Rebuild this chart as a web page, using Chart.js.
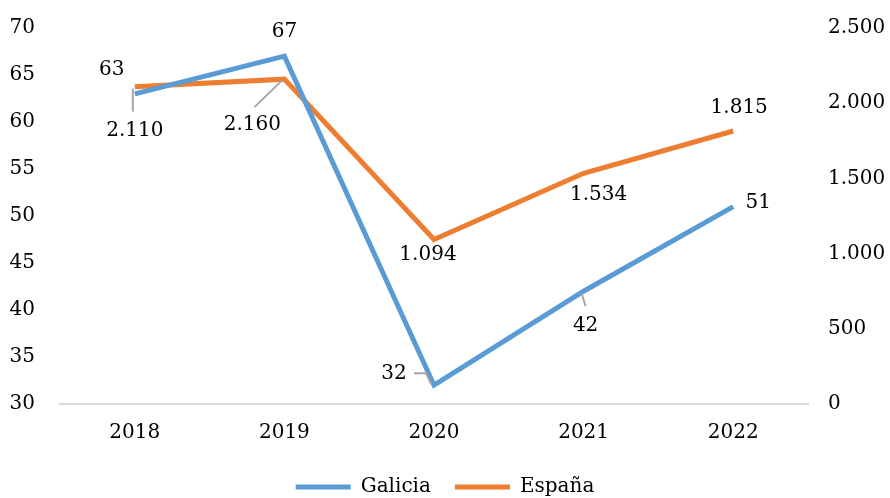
<!DOCTYPE html>
<html>
<head>
<meta charset="utf-8">
<script src="https://cdn.jsdelivr.net/npm/chart.js@4"></script>
<style>
  html, body { margin: 0; padding: 0; background: #fff; }
  #wrap { width: 890px; height: 498px; }
</style>
</head>
<body>
<div id="wrap"><canvas id="chartCanvas"></canvas></div>
<script>
const years = ['2018', '2019', '2020', '2021', '2022'];
const galicia = [63, 67, 32, 42, 51];
const espana = [2110, 2160, 1094, 1534, 1815];

// label offsets from the point, and optional leader line
const galiciaLabelPos = [
    { dx: -23, dy: -24 },
    { dx: 0, dy: -24 },
    { dx: -40, dy: -11, leader: [[-20, -12], [-8, -12], [-3, -1]] },
    { dx: 2, dy: 35, leader: [[-2, 2], [2, 15]] },
    { dx: 25, dy: -4 }
];
const espanaLabelPos = [
    { dx: 0, dy: 44, leader: [[-2, 2], [-2, 25]] },
    { dx: -32, dy: 46, leader: [[-2, 1], [-30, 28]] },
    { dx: -6, dy: 15 },
    { dx: 15, dy: 22 },
    { dx: 6, dy: -23 }
];

const fontFamily = '"DejaVu Serif", "Liberation Serif", serif';

function formatThousands(v) {
    return String(v).replace(/\B(?=(\d{3})+(?!\d))/g, '.');
}

const dataLabels = {
    id: 'dataLabels',
    afterDatasetsDraw(chart) {
        const ctx = chart.ctx;
        const sets = [
            { meta: chart.getDatasetMeta(0), values: galicia, pos: galiciaLabelPos, fmt: v => String(v) },
            { meta: chart.getDatasetMeta(1), values: espana, pos: espanaLabelPos, fmt: formatThousands }
        ];
        ctx.save();
        ctx.font = '20px ' + fontFamily;
        ctx.textAlign = 'center';
        ctx.textBaseline = 'middle';
        sets.forEach(s => {
            s.meta.data.forEach((pt, i) => {
                const p = s.pos[i];
                if (p.leader) {
                    ctx.strokeStyle = '#A6A6A6';
                    ctx.lineWidth = 2;
                    ctx.beginPath();
                    p.leader.forEach((c, k) => {
                        if (k === 0) ctx.moveTo(pt.x + c[0], pt.y + c[1]);
                        else ctx.lineTo(pt.x + c[0], pt.y + c[1]);
                    });
                    ctx.stroke();
                }
                ctx.fillStyle = '#000';
                ctx.fillText(s.fmt(s.values[i]), pt.x + p.dx, pt.y + p.dy);
            });
        });
        ctx.restore();
    }
};

// tick padding in v4 also pads the top of vertical axes; drop it
function fitY(width) {
    return axis => {
        axis.width = width;
        axis.paddingTop = 0;
        axis.paddingBottom = 0;
    };
}

const ctx = document.getElementById('chartCanvas').getContext('2d');
new Chart(ctx, {
    type: 'line',
    data: {
        labels: years,
        datasets: [{
            label: 'Galicia',
            data: galicia,
            borderColor: '#5B9BD5',
            backgroundColor: '#5B9BD5',
            borderWidth: 5,
            pointRadius: 0,
            tension: 0,
            yAxisID: 'y'
        }, {
            label: 'España',
            data: espana,
            borderColor: '#ED7D31',
            backgroundColor: '#ED7D31',
            borderWidth: 5,
            pointRadius: 0,
            tension: 0,
            yAxisID: 'y1'
        }]
    },
    options: {
        responsive: true,
        maintainAspectRatio: false,
        animation: false,
        layout: { padding: { top: 28, left: 0, right: 0, bottom: -9 } },
        plugins: {
            tooltip: { enabled: false },
            legend: {
                position: 'bottom',
                labels: {
                    usePointStyle: true,
                    pointStyle: 'line',
                    pointStyleWidth: 55,
                    boxHeight: 5,
                    padding: 24,
                    color: '#000',
                    font: { family: fontFamily, size: 20 }
                }
            }
        },
        scales: {
            x: {
                offset: true,
                grid: { display: false, drawTicks: false },
                border: { display: true, color: '#D9D9D9', width: 2 },
                ticks: { color: '#000', padding: 17, font: { family: fontFamily, size: 20 } },
                afterFit: axis => { axis.height = 49; }
            },
            y: {
                position: 'left',
                min: 30,
                max: 70,
                grid: { display: false, drawTicks: false },
                border: { display: false },
                ticks: { stepSize: 5, color: '#000', padding: 25, font: { family: fontFamily, size: 20 } },
                afterFit: fitY(60)
            },
            y1: {
                position: 'right',
                min: 0,
                max: 2500,
                grid: { display: false, drawTicks: false },
                border: { display: false },
                ticks: {
                    stepSize: 500,
                    color: '#000',
                    padding: 20,
                    font: { family: fontFamily, size: 20 },
                    callback: v => formatThousands(v)
                },
                afterFit: fitY(82)
            }
        }
    },
    plugins: [dataLabels]
});
</script>
</body>
</html>
